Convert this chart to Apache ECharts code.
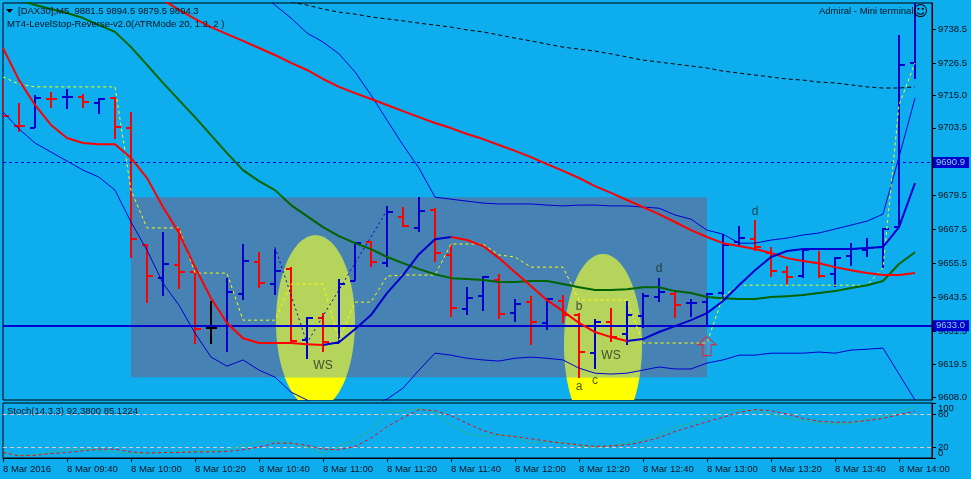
<!DOCTYPE html>
<html><head><meta charset="utf-8">
<style>html,body{margin:0;padding:0;background:#0dadee;overflow:hidden}#c{width:971px;height:479px}</style>
<script src="https://cdn.jsdelivr.net/npm/echarts@6/dist/echarts.min.js"></script>
</head><body><div id="c"></div>
<script>
const timeLabels=['8 Mar 2016','8 Mar 09:40','8 Mar 10:00','8 Mar 10:20','8 Mar 10:40','8 Mar 11:00','8 Mar 11:20','8 Mar 11:40','8 Mar 12:00','8 Mar 12:20','8 Mar 12:40','8 Mar 13:00','8 Mar 13:20','8 Mar 13:40','8 Mar 14:00'];
const priceTicks=[9738.5,9726.5,9715.0,9703.5,9679.5,9667.5,9655.5,9643.5,9631.5,9619.5,9608.0];
const stochTicks=[0,20,80,100];
const opens=[9716.9,9704.1,9703.4,9713.7,9714.4,9714.4,9712.3,9714.1,9703.4,9661.9,9650.2,9654.8,9652.3,9632.5,9633.2,9644.5,9655.9,9648.1,9653.4,9628.2,9636.0,9627.2,9649.2,9663.0,9655.5,9671.8,9668.0,9674.3,9658.4,9639.2,9643.8,9649.5,9637.8,9641.7,9634.3,9642.1,9637.1,9623.6,9634.6,9630.4,9636.8,9643.5,9644.5,9641.4,9641.7,9644.9,9663.0,9664.0,9659.1,9652.3,9650.9,9655.5,9651.6,9658.0,9660.1,9661.2,9668.3,9726.5];
const highs=[9720.4,9712.3,9715.1,9716.2,9717.2,9715.5,9714.1,9714.4,9709.1,9662.3,9666.5,9668.0,9652.3,9642.1,9650.2,9662.3,9659.4,9660.5,9654.1,9636.4,9637.8,9649.9,9663.0,9663.3,9675.8,9675.4,9678.9,9675.0,9661.9,9647.0,9650.9,9651.6,9642.8,9643.8,9643.1,9644.2,9637.8,9635.7,9639.6,9642.1,9644.9,9650.2,9645.3,9642.8,9644.9,9665.8,9668.7,9670.8,9661.2,9654.5,9660.5,9659.8,9657.7,9662.6,9664.4,9668.0,9736.4,9752.0];
const lows=[9707.7,9702.0,9703.4,9710.5,9710.1,9710.5,9708.4,9699.5,9657.3,9641.4,9643.8,9646.3,9626.8,9626.8,9624.0,9642.4,9646.7,9644.2,9627.2,9621.5,9624.0,9627.2,9649.2,9654.1,9654.1,9668.3,9666.5,9655.9,9636.4,9637.1,9638.5,9635.7,9634.6,9626.5,9631.8,9634.3,9614.8,9618.0,9627.5,9626.5,9632.5,9641.7,9636.0,9636.4,9632.8,9642.4,9661.2,9659.8,9650.6,9647.7,9650.2,9650.2,9647.0,9654.5,9657.7,9653.8,9668.3,9720.8];
const closes=[9707.7,9704.0,9714.1,9713.6,9714.5,9712.6,9713.7,9703.8,9664.0,9650.9,9655.2,9652.3,9632.1,9632.5,9645.3,9656.3,9648.4,9652.7,9627.9,9636.0,9627.5,9648.1,9662.6,9655.9,9673.6,9668.7,9674.0,9659.1,9639.6,9643.1,9650.6,9637.5,9641.0,9634.6,9642.8,9637.1,9624.0,9634.6,9629.3,9637.1,9643.8,9645.3,9640.6,9641.5,9644.5,9661.9,9664.4,9661.2,9652.7,9650.6,9660.1,9650.9,9657.3,9660.5,9660.9,9667.6,9725.8,9752.0];
const fastMA=[9731.8,9720.4,9711.6,9704.5,9699.9,9698.1,9697.7,9697.7,9692.8,9685.7,9675.4,9666.2,9654.1,9643.1,9634.3,9628.9,9627.2,9627.2,9627.2,9626.8,9626.5,9627.5,9632.1,9637.1,9644.9,9651.3,9658.7,9664.0,9664.8,9663.7,9661.6,9657.3,9652.3,9647.4,9642.4,9638.5,9634.3,9631.1,9629.3,9627.9,9628.6,9631.1,9633.2,9635.3,9637.8,9642.1,9647.7,9653.0,9657.7,9659.8,9660.5,9660.5,9660.5,9660.5,9660.9,9661.2,9668.3,9683.9];
const slowRed=[9748.8,9745.3,9742.1,9739.2,9736.7,9734.3,9731.8,9729.3,9726.5,9724.0,9720.8,9718.0,9715.8,9713.7,9711.6,9709.4,9707.3,9705.2,9703.4,9701.3,9699.5,9697.4,9695.3,9693.1,9690.6,9688.2,9685.7,9682.8,9680.4,9677.9,9675.4,9672.9,9670.1,9667.2,9664.8,9662.6,9661.6,9660.5,9659.1,9657.3,9656.3,9655.5,9654.1,9653.0,9652.0,9651.3,9651.3,9652.0];
const greenMA=[9750.6,9748.8,9747.0,9745.6,9744.2,9742.4,9739.9,9737.5,9732.1,9725.8,9719.4,9713.3,9707.3,9700.9,9694.5,9688.5,9684.6,9681.4,9676.1,9672.2,9668.3,9665.1,9662.6,9660.5,9657.7,9655.5,9653.4,9651.6,9650.2,9649.9,9649.5,9648.8,9648.8,9649.2,9649.2,9648.1,9647.0,9646.0,9646.0,9646.3,9647.0,9647.0,9645.6,9644.9,9643.5,9643.1,9642.8,9642.8,9643.5,9643.8,9644.2,9644.9,9645.6,9646.7,9647.7,9649.2,9655.2,9659.4];
const upperBand=[9751.6,9747.0,9742.4,9737.1,9733.9,9729.7,9723.3,9715.1,9706.2,9697.4,9689.2,9678.9,9678.2,9677.5,9676.8,9676.5,9676.5,9676.5,9676.1,9675.8,9676.1,9676.1,9675.8,9675.8,9675.4,9675.0,9672.6,9671.1,9667.2,9665.8,9662.6,9662.6,9663.7,9664.4,9665.5,9666.2,9667.6,9669.0,9670.4,9672.9,9693.1,9714.0];
const lowerBand=[9709.1,9703.1,9698.1,9694.9,9691.7,9688.5,9686.0,9681.4,9670.1,9660.1,9648.4,9640.6,9630.7,9622.2,9619.0,9621.2,9617.6,9615.1,9609.8,9607.0,9605.2,9604.1,9604.1,9605.2,9607.3,9611.2,9617.6,9623.6,9622.9,9621.8,9621.2,9620.8,9621.8,9622.2,9621.8,9621.2,9618.3,9616.5,9616.2,9616.5,9617.6,9618.7,9618.0,9618.0,9620.1,9621.2,9622.9,9622.9,9623.6,9623.6,9623.6,9624.0,9623.6,9624.7,9625.0,9625.4,9616.2,9607.0];
const levelStop=[9721.5,9719.0,9718.0,9718.0,9718.0,9718.0,9718.0,9718.0,9681.4,9668.0,9668.0,9668.0,9652.0,9652.0,9652.0,9635.3,9635.3,9635.3,9648.1,9648.1,9648.1,9628.2,9641.7,9641.7,9650.9,9651.3,9651.3,9651.3,9662.3,9662.3,9662.3,9658.4,9657.7,9654.1,9654.1,9654.1,9642.4,9642.4,9642.4,9642.4,9627.2,9627.2,9627.2,9627.2,9627.2,9643.8,9647.7,9647.7,9647.7,9647.7,9647.7,9647.7,9647.7,9647.7,9647.7,9653.8,9711.6,9726.5];
const trendDots=[9661.2,9644.2,9627.2,9636.8,9646.0,9655.5,9664.8,9674.3];
const blackSlow=[9748.1,9747.0,9745.6,9744.5,9743.8,9742.8,9742.1,9741.4,9740.6,9739.9,9739.2,9738.2,9737.5,9736.4,9735.3,9734.3,9733.2,9732.1,9731.4,9730.7,9729.7,9728.6,9727.5,9726.8,9726.1,9725.4,9724.7,9723.6,9722.9,9722.2,9721.5,9720.8,9720.4,9719.7,9719.4,9718.7,9718.0,9717.6,9717.6,9718.0];
const stochK=[11,5,6,11,16,16,14,11,9,8,10,11,12,12,15,23,30,31,27,20,9,21,33,51,85,85,90,84,60,44,40,42,39,27,30,28,22,20,22,28,33,43,56,63,74,85,88,86,80,72,68,63,62,62,71,75,85,92.4];
const stochD=[10,4,5,8,10,13,16,16,11,9,10,10,11,11,12,15,20,27,27,23,16,15,21,36,57,73,88,86,77,63,50,42,39,35,30.5,27,24,21,22,24,29,37,48,57,66,74,83,88,86,80,72,67,65,65,68,72,79,85.1];
const zoneRect=[8,44,9678.9,9615.1];
const ellipseA=[19.53,2.47,9634.6,30.85];
const ellipseB=[37.5,2.44,9626.5,32.27];
const arrowPoint=[[44,9626.1]];
const letters=[[36,9611.6,'a'],[36,9640.0,'b'],[37,9613.7,'c'],[41,9653.4,'d'],[47,9673.6,'d'],[20,9619.0,'WS'],[38,9622.6,'WS']];
const lastPrice=9633.3, bidLine=9691.2;
const redRanges=[[0,20],[28,39],[50,51]], blueRanges=[[20,28],[39,50],[51,57]];

const FF='"Liberation Sans",sans-serif', FS=9.5, INK='#00141e';
const BLUE='#0000cc', RED='#ff0000', GREEN='#006400';
const idx=opens.map((_,i)=>i);
const toLine=(arr,start)=>arr.map((v,i)=>[i+start,v]);
const seg=(arr,ranges)=>arr.map((v,i)=>[i,ranges.some(r=>i>=r[0]&&i<=r[1])?v:null]);
const line=(name,data,color,width,type,z,xi)=>({name,type:'line',data,xAxisIndex:xi||0,yAxisIndex:xi||0,symbol:'none',z:z||5,silent:true,animation:false,connectNulls:false,clip:true,lineStyle:{color,width,type:type||'solid',cap:'butt',join:'round'}});
const ohlc=idx.map(i=>[i,opens[i],highs[i],lows[i],closes[i]]);

function renderBar(p,api){
  const i=api.value(0),o=api.value(1),h=api.value(2),l=api.value(3),c=api.value(4);
  const col=c>o?BLUE:(c<o?RED:'#000000');
  const x=Math.round(api.coord([i,o])[0]);
  const yo=Math.round(api.coord([i,o])[1]),yh=Math.round(api.coord([i,h])[1]),yl=Math.round(api.coord([i,l])[1]),yc=Math.round(api.coord([i,c])[1]);
  const st={fill:col};
  return {type:'group',children:[
    {type:'rect',shape:{x:x-1,y:yh,width:2,height:Math.max(yl-yh,1)},style:st},
    {type:'rect',shape:{x:x-5,y:yo-1,width:5,height:2},style:st},
    {type:'rect',shape:{x:x,y:yc-1,width:6,height:2},style:st}
  ]};
}
function renderZone(p,api){
  const a=api.coord([zoneRect[0],zoneRect[2]]),b=api.coord([zoneRect[1],zoneRect[3]]);
  const split=b[1];
  const kids=[{type:'rect',shape:{x:a[0],y:a[1],width:b[0]-a[0],height:b[1]-a[1]},style:{fill:'#4682b4'}}];
  [ellipseA,ellipseB].forEach(e=>{
    const green=[],yellow=[];
    for(let k=0;k<160;k++){
      const t=k/160*Math.PI*2;
      const q=api.coord([e[0]+e[1]*Math.cos(t),e[2]+e[3]*Math.sin(t)]);
      green.push([q[0],Math.min(q[1],split)]);
      yellow.push([q[0],Math.max(q[1],split)]);
    }
    kids.push({type:'polygon',shape:{points:green},style:{fill:'#b5d45c'}});
    kids.push({type:'polygon',shape:{points:yellow},style:{fill:'#ffff00'}});
  });
  return {type:'group',children:kids};
}
const txt=(x,y,s,o)=>({type:'text',x,y,z:50,silent:true,style:Object.assign({text:s,fill:INK,font:FS+'px '+FF,textVerticalAlign:'middle'},o||{})});
const badge=(v,s)=>({yAxis:v,label:{show:true,position:'end',distance:1,formatter:s,color:'#8fd0f0',backgroundColor:BLUE,padding:[1,4,0,3],fontFamily:FF,fontSize:FS}});
const stochLevel=v=>({yAxis:v,label:{show:true,position:'end',distance:6,formatter:String(v),color:INK,fontFamily:FF,fontSize:FS}});

const chart=echarts.init(document.getElementById('c'),null,{renderer:'canvas'});
const XMAX=929/16;
const tickVals=timeLabels.map((_,k)=>k*4);
chart.setOption({
  animation:false,backgroundColor:'#0dadee',
  grid:[
    {left:3,top:3,width:929,height:397,show:true,borderColor:'#000',borderWidth:1,backgroundColor:'transparent',outerBoundsMode:'none',containLabel:false},
    {left:3,top:403,width:929,height:55,show:true,borderColor:'#000',borderWidth:1,backgroundColor:'transparent',outerBoundsMode:'none',containLabel:false}
  ],
  xAxis:[
    {type:'value',gridIndex:0,min:0,max:XMAX,show:false,splitLine:{show:false}},
    {type:'value',gridIndex:1,min:0,max:XMAX,splitLine:{show:false},
      axisLine:{show:true,lineStyle:{color:'#000'}},
      axisTick:{show:true,length:4,lineStyle:{color:'#000'},customValues:tickVals},
      axisLabel:{show:true,customValues:tickVals,formatter:v=>timeLabels[Math.round(v/4)]||'',align:'left',margin:6,color:INK,fontFamily:FF,fontSize:FS,hideOverlap:false,showMinLabel:true,showMaxLabel:true}}
  ],
  yAxis:[
    {type:'value',gridIndex:0,position:'right',min:9607.0,max:9747.74,splitLine:{show:false},
      axisLine:{show:true,onZero:false,lineStyle:{color:'#000'}},
      axisTick:{show:true,length:4,lineStyle:{color:'#000'},customValues:priceTicks},
      axisLabel:{show:true,customValues:priceTicks,margin:6,formatter:v=>v.toFixed(1),color:INK,fontFamily:FF,fontSize:FS,showMinLabel:true,showMaxLabel:true,hideOverlap:false}},
    {type:'value',gridIndex:1,position:'right',min:0,max:100,splitLine:{show:false},
      axisLine:{show:true,onZero:false,lineStyle:{color:'#000'}},
      axisTick:{show:true,length:4,lineStyle:{color:'#000'},customValues:stochTicks},
      axisLabel:{show:true,customValues:[0,100],margin:6,color:INK,fontFamily:FF,fontSize:FS,showMinLabel:true,showMaxLabel:true,hideOverlap:false,verticalAlignMinLabel:'bottom',verticalAlignMaxLabel:'top'}}
  ],
  series:[
    {type:'custom',name:'Zones',data:[[0]],xAxisIndex:0,yAxisIndex:0,renderItem:renderZone,z:1,silent:true,clip:true,animation:false,encode:{x:0}},
    {type:'custom',name:'Bars',data:ohlc,xAxisIndex:0,yAxisIndex:0,renderItem:renderBar,z:3,silent:true,clip:true,animation:false,encode:{x:0,y:[1,2,3,4]}},
    line('Lower band',toLine(lowerBand,0),BLUE,1),
    line('Upper band',toLine(upperBand,16),BLUE,1),
    line('Black slow',toLine(blackSlow,18),'#000',1,[4,3]),
    line('Level stop',toLine(levelStop,0),'#ffff00',1,[3,3]),
    line('Trend dots',toLine(trendDots,17),BLUE,1,[2,3]),
    line('Green MA',toLine(greenMA,0),GREEN,2),
    line('Slow red',toLine(slowRed,10),RED,2),
    line('Fast red',seg(fastMA,redRanges),RED,2),
    line('Fast blue',seg(fastMA,blueRanges),BLUE,2),
    {type:'line',name:'Levels',data:[[0,lastPrice]],xAxisIndex:0,yAxisIndex:0,symbol:'none',z:6,silent:true,lineStyle:{width:0},
      markLine:{silent:true,symbol:'none',animation:false,data:[
        Object.assign(badge(bidLine,'9690.9'),{lineStyle:{color:BLUE,width:1,type:[3,3]}}),
        Object.assign(badge(lastPrice,'9633.0'),{lineStyle:{color:BLUE,width:2,type:'solid'}})
      ]}},
    {type:'scatter',name:'Arrow',data:arrowPoint,xAxisIndex:0,yAxisIndex:0,symbol:'path://M9 0 L18 8 L13 8 L13 19 L5 19 L5 8 L0 8 Z',symbolSize:[18,19],z:7,silent:true,itemStyle:{color:'rgba(120,150,190,0.4)',borderColor:'#ff1010',borderWidth:1}},
    {type:'scatter',name:'Letters',data:letters,xAxisIndex:0,yAxisIndex:0,symbolSize:1,z:8,silent:true,itemStyle:{color:'transparent'},
      label:{show:true,position:'inside',formatter:p=>p.value[2],color:'#1a2a20',fontFamily:FF,fontSize:12}},
    line('Stoch K',toLine(stochK,0),'#25b59a',1,'solid',5,1),
    Object.assign(line('Stoch D',toLine(stochD,0),RED,1,[3,3],6,1),{markLine:{silent:true,symbol:'none',animation:false,lineStyle:{color:'#e4c4bc',width:1,type:[4,3]},data:[stochLevel(80),stochLevel(20)]}})
  ],
  graphic:[
    {type:'polygon',z:50,silent:true,shape:{points:[[6,9],[13,9],[9.5,13]]},style:{fill:'#000'}},
    txt(18,11,'[DAX30],M5  9881.5 9894.5 9879.5 9894.3'),
    txt(7,24,'MT4-LevelStop-Reverse-v2.0(ATRMode 20, 1.2, 2 )'),
    txt(819,11,'Admiral - Mini terminal'),
    txt(920.5,12,'☺',{font:'15px "DejaVu Sans"',textAlign:'center',fill:'#000'}),
    txt(7,411,'Stoch(14,3,3) 92.3800 85.1224')
  ]
});
</script></body></html>
